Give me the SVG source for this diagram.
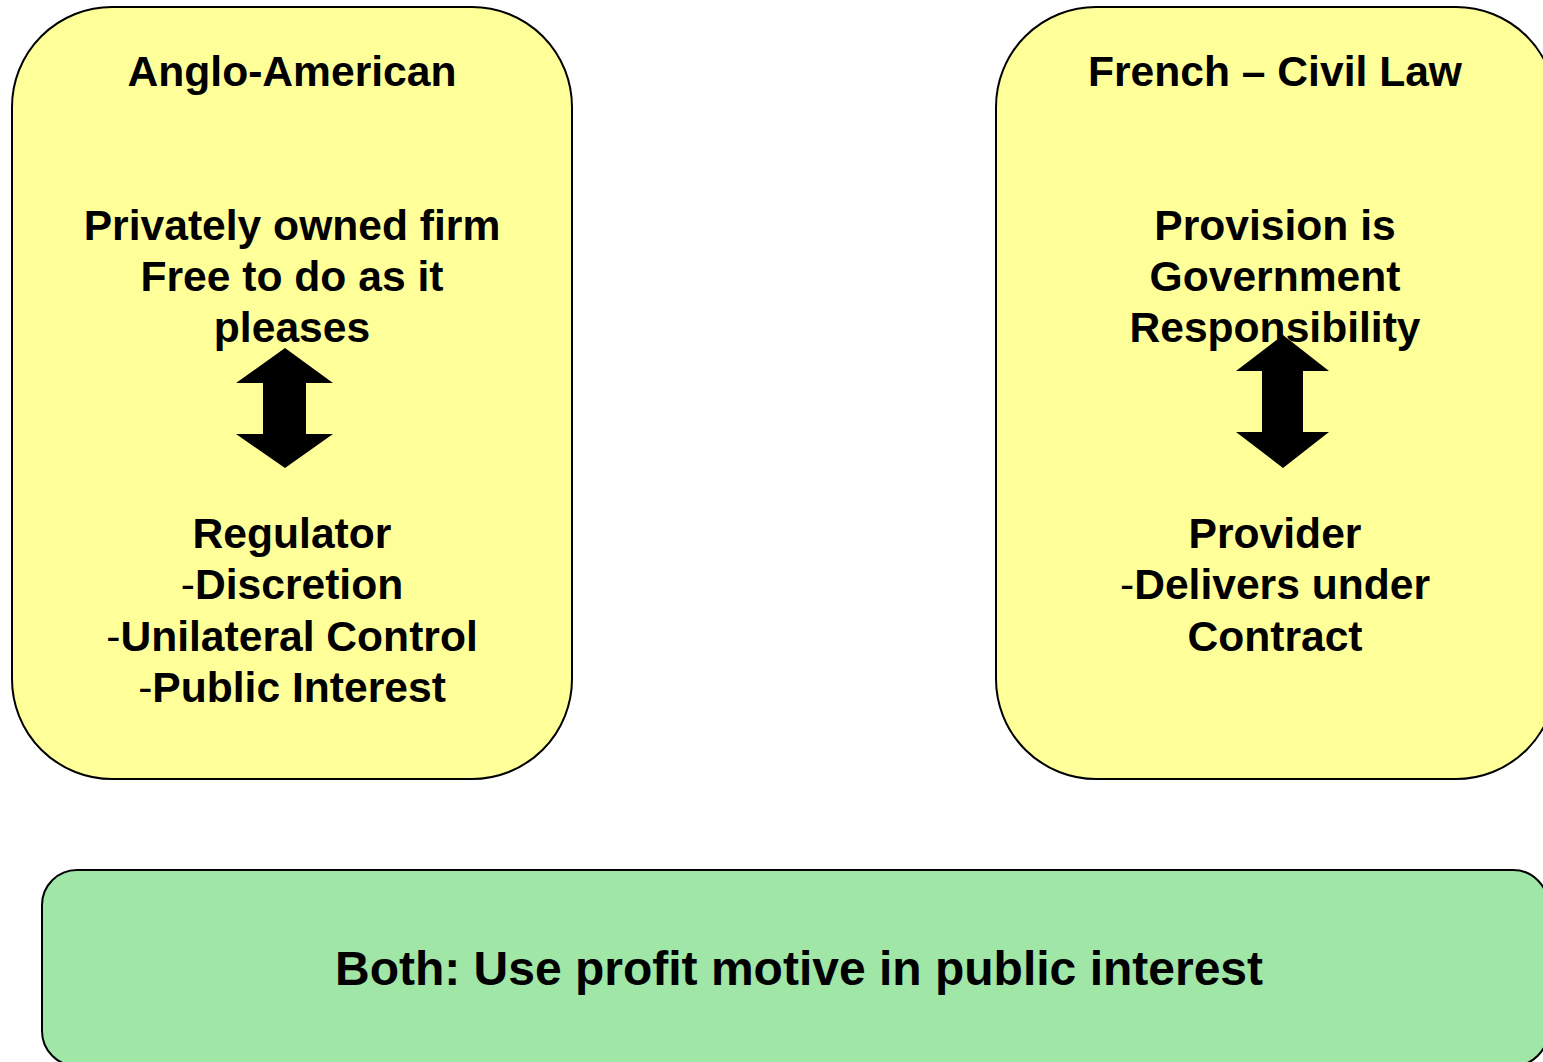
<svg xmlns="http://www.w3.org/2000/svg" width="1543" height="1062" viewBox="0 0 1543 1062">
<style>
.box{fill:#ffff99;stroke:#000;stroke-width:2}
.both{fill:#a0e6a6;stroke:#000;stroke-width:2}
text{font-family:"Liberation Sans",Arial,sans-serif;font-weight:bold;font-size:42.6px;text-anchor:middle;fill:#000}
.n{font-weight:normal}
.big{font-size:48px}
.arr{fill:#000}
</style>
<rect width="1543" height="1062" fill="#fff"/>
<g id="anglo">
<rect class="box" x="12" y="7" width="560" height="772" rx="100" ry="100"/>
<text x="292" y="86">Anglo-American</text>
<text x="292" y="240">Privately owned firm</text>
<text x="292" y="291">Free to do as it</text>
<text x="292" y="342">pleases</text>
<text x="292" y="548">Regulator</text>
<text x="292" y="599"><tspan class="n">-</tspan>Discretion</text>
<text x="292" y="651"><tspan class="n">-</tspan>Unilateral Control</text>
<text x="292" y="702"><tspan class="n">-</tspan>Public Interest</text>
<polygon class="arr" points="285,348 333,383 306,383 306,434 333,434 285,468 236,434 263,434 263,383 236,383"/>
</g>
<g id="french">
<rect class="box" x="996" y="7" width="560" height="772" rx="100" ry="100"/>
<text x="1275" y="86">French – Civil Law</text>
<text x="1275" y="240">Provision is</text>
<text x="1275" y="291">Government</text>
<text x="1275" y="342">Responsibility</text>
<text x="1275" y="548">Provider</text>
<text x="1275" y="599"><tspan class="n">-</tspan>Delivers under</text>
<text x="1275" y="651">Contract</text>
<polygon class="arr" points="1283,335 1329,371 1303,371 1303,432 1329,432 1283,468 1236,432 1262,432 1262,371 1236,371"/>
</g>
<g id="both">
<rect class="both" x="42" y="870" width="1506" height="196" rx="35" ry="35"/>
<text class="big" x="799" y="985">Both: Use profit motive in public interest</text>
</g>
<g id="connectors"/>
</svg>
